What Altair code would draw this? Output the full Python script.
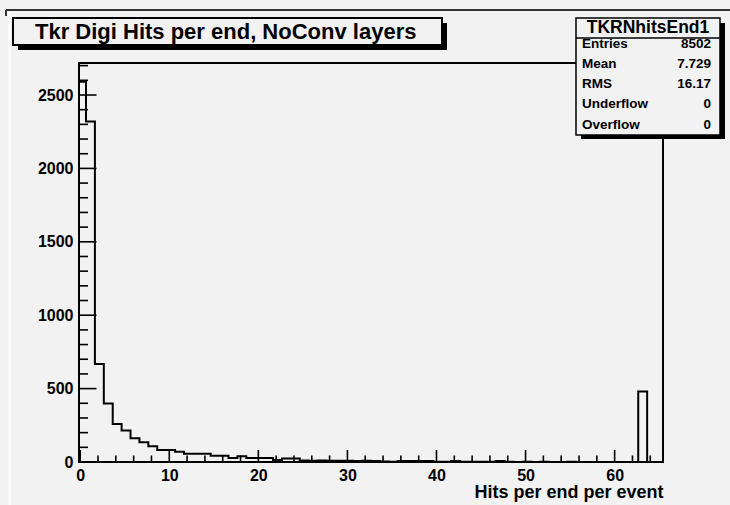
import altair as alt
import pandas as pd

# ---- data ----
counts = [2590, 2320, 667, 398, 259, 215, 161, 135, 107, 82,
          82, 69, 56, 56, 56, 42, 42, 28, 39, 27,
          27, 27, 14, 23, 23, 11, 9, 10, 8, 9,
          8, 7, 8, 7, 3, 2, 7, 6, 7, 6,
          2, 2, 7, 1, 2, 1, 2, 6, 1, 0,
          1, 0, 1, 0, 0, 1, 0, 0, 0, 0,
          0, 0, 0, 480, 0, 0]
bin_offset = -0.35          # lower edge of bin k is k + bin_offset
x_ticks = [0, 10, 20, 30, 40, 50, 60]
x_minor = [v for v in range(2, 65, 2) if v % 10 != 0]
y_ticks = [0, 500, 1000, 1500, 2000, 2500]
y_minor = [v for v in range(100, 2718, 100) if v % 500 != 0]
title_text = "Tkr Digi Hits per end, NoConv layers"
stats_name = "TKRNhitsEnd1"
stats_labels = ["Entries", "Mean", "RMS", "Underflow", "Overflow"]
stats_values = ["8502", "7.729", "16.17", "0", "0"]
x_title = "Hits per end per event"

XDOM = [-0.135, 65.43]
YDOM = [0, 2718]
W, H = 584, 399
FONT = "Liberation Sans"
BG = "#f2f2f2"

edges = [k + bin_offset for k in range(len(counts))]
hist = pd.DataFrame({"x": edges + [len(counts) + bin_offset],
                     "y": counts + [0]})

xs = alt.Scale(domain=XDOM, nice=False, zero=False)
ys = alt.Scale(domain=YDOM, nice=False, zero=False)

line = alt.Chart(hist).mark_line(
    interpolate="step-after", color="black", strokeWidth=2, clip=True
).encode(
    x=alt.X("x:Q", scale=xs, axis=alt.Axis(
        values=x_ticks, format="d", tickSize=0, domain=False, grid=False,
        labelFont=FONT, labelFontSize=16, labelFontWeight="bold",
        labelColor="black", labelPadding=5, labelFlush=False,
        labelOverlap=False,
        title=x_title, titleFont=FONT, titleFontSize=18,
        titleFontWeight="bold", titleColor="black",
        titleAnchor="end", titleAlign="right", titleX=W, titleY=30.5,
        titleBaseline="middle")),
    y=alt.Y("y:Q", scale=ys, axis=alt.Axis(
        values=y_ticks, format="d", tickSize=0, domain=False, grid=False,
        labelFont=FONT, labelFontSize=16, labelFontWeight="bold",
        labelColor="black", labelPadding=6, labelFlush=False,
        labelOverlap=False, title=None)),
)

def xtick_layer(vals, length):
    return alt.Chart(pd.DataFrame({"t": vals})).mark_rule(
        color="black", strokeWidth=1.6).encode(
        x=alt.X("t:Q", scale=xs),
        y=alt.value(H), y2=alt.value(H - length))

def ytick_layer(vals, length):
    return alt.Chart(pd.DataFrame({"t": vals})).mark_rule(
        color="black", strokeWidth=1.6).encode(
        y=alt.Y("t:Q", scale=ys),
        x=alt.value(0), x2=alt.value(length))

one = pd.DataFrame({"a": [0]})

def box(x1, x2, y1, y2, fill, stroke=None, sw=0):
    kw = dict(fill=fill)
    if stroke:
        kw.update(stroke=stroke, strokeWidth=sw)
    return alt.Chart(one).mark_rect(**kw).encode(
        x=alt.value(x1), x2=alt.value(x2), y=alt.value(y1), y2=alt.value(y2))

def rule(x1, x2, y1, y2, color="black", sw=2):
    return alt.Chart(one).mark_rule(color=color, strokeWidth=sw).encode(
        x=alt.value(x1), x2=alt.value(x2), y=alt.value(y1), y2=alt.value(y2))

def text(s, x, y, size, align="left"):
    return alt.Chart(one).mark_text(
        text=s, font=FONT, fontSize=size, fontWeight="bold", color="black",
        align=align, baseline="middle").encode(x=alt.value(x), y=alt.value(y))

layers = [
    # page decorations
    rule(-69.5, -69.5, -51, 442, color="#fbfbfb", sw=3),
    rule(-73, 651, -53, -53, color="#333333", sw=2),
    rule(-73, -73, -53, -47, color="#333333", sw=2),
    # histogram + ticks
    line,
    xtick_layer(x_ticks, 12),
    xtick_layer(x_minor, 6.5),
    ytick_layer(y_ticks, 17.5),
    ytick_layer(y_minor, 9),
    # title box
    box(-61, 368, -40, -13, "black"),
    box(-66, 363, -45, -18, BG, "black", 2),
    text(title_text, -44, -31.5, 22),
    # stats box
    box(502, 646, -40, 76, "black"),
    box(497, 641, -45, 72, BG, "black", 1.5),
    rule(497, 641, -25, -25, sw=1.5),
    text(stats_name, 569, -35, 17.5, align="center"),
]
row_y = [-19, 1, 20.5, 41, 61.5]
for lab, val, yy in zip(stats_labels, stats_values, row_y):
    layers.append(text(lab, 503, yy, 13.5))
    layers.append(text(val, 632, yy, 13.5, align="right"))

chart = alt.layer(*layers).properties(
    width=W, height=H,
    autosize=alt.AutoSizeParams(type="none"),
    padding={"left": 79, "top": 63, "right": 67, "bottom": 43},
    background=BG,
).configure_view(stroke="black", strokeWidth=2, fill=BG)

chart.save("out.html", embed_options={"renderer": "svg", "actions": False})
